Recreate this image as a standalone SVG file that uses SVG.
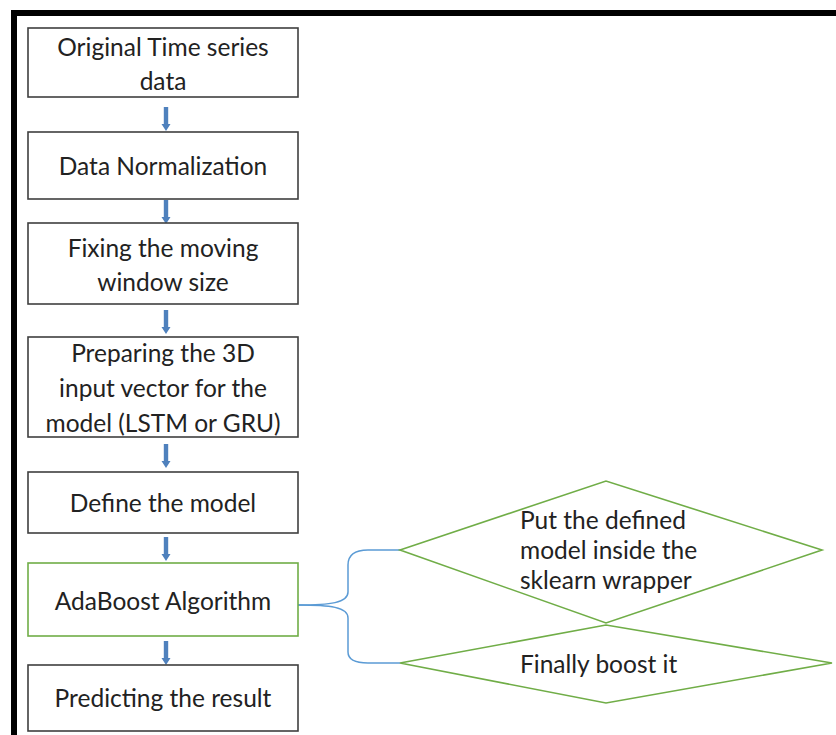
<svg xmlns="http://www.w3.org/2000/svg" width="836" height="735" viewBox="0 0 836 735">
  <defs>
    <style>
      .box { fill: #ffffff; stroke: #3f3f3f; stroke-width: 1.6; }
      .gbox { fill: #ffffff; stroke: #70ad47; stroke-width: 1.6; }
      .dia { fill: none; stroke: #70ad47; stroke-width: 1.6; }
      .lbl { font-family: Lato, "Liberation Sans", sans-serif; font-size: 24.5px; fill: #222222; text-anchor: middle; dominant-baseline: central; }
      .lft { text-anchor: start; }
      .arrow { fill: #4f81bd; }
      .brace { fill: none; stroke: #5b9bd5; stroke-width: 1.5; }
    </style>
    <path id="dnArrow" d="M -2.2 0 L 2.2 0 L 2.2 17 L 4.5 17 L 0 24 L -4.5 17 L -2.2 17 Z"/>
  </defs>

  <rect x="0" y="0" width="836" height="735" fill="#ffffff"/>

  <!-- outer frame (top and left edges) -->
  <path d="M 14 735 L 14 13 L 836 13" fill="none" stroke="#000000" stroke-width="6"/>

  <!-- connectors -->
  <g id="connectors">
    <use href="#dnArrow" class="arrow" x="166" y="107"/>
    <use href="#dnArrow" class="arrow" x="166" y="200"/>
    <use href="#dnArrow" class="arrow" x="166" y="310"/>
    <use href="#dnArrow" class="arrow" x="166" y="444"/>
    <use href="#dnArrow" class="arrow" x="166" y="537"/>
    <use href="#dnArrow" class="arrow" x="166" y="641"/>
    <path class="brace" d="M 298 605 C 330 605 348 603 348 592 L 348 565 C 348 554 356 550 368 550 L 400 550"/>
    <path class="brace" d="M 298 605 C 330 605 348 607 348 618 L 348 652 C 348 660 356 663 368 663 L 400 663"/>
  </g>

  <g id="n1">
    <rect class="box" x="28" y="28" width="270" height="69"/>
    <text class="lbl" x="163" y="46">Original Time series</text>
    <text class="lbl" x="163" y="80">data</text>
  </g>

  <g id="n2">
    <rect class="box" x="28" y="132" width="270" height="67"/>
    <text class="lbl" x="163" y="165">Data Normalization</text>
  </g>

  <g id="n3">
    <rect class="box" x="28" y="223" width="270" height="81"/>
    <text class="lbl" x="163" y="247">Fixing the moving</text>
    <text class="lbl" x="163" y="281">window size</text>
  </g>

  <g id="n4">
    <rect class="box" x="28" y="337" width="270" height="100"/>
    <text class="lbl" x="163" y="352">Preparing the 3D</text>
    <text class="lbl" x="163" y="387">input vector for the</text>
    <text class="lbl" x="163" y="422">model (LSTM or GRU)</text>
  </g>

  <g id="n5">
    <rect class="box" x="28" y="472" width="270" height="61"/>
    <text class="lbl" x="163" y="502">Define the model</text>
  </g>

  <g id="n6">
    <rect class="gbox" x="28" y="563" width="270" height="73"/>
    <text class="lbl" x="163" y="600">AdaBoost Algorithm</text>
  </g>

  <g id="n7">
    <rect class="box" x="28" y="665" width="270" height="66"/>
    <text class="lbl" x="163" y="697">Predicting the result</text>
  </g>

  <g id="d1">
    <polygon class="dia" points="400,550 606,481 822,550 606,623"/>
    <text class="lbl lft" x="520" y="519">Put the defined</text>
    <text class="lbl lft" x="520" y="549">model inside the</text>
    <text class="lbl lft" x="520" y="579">sklearn wrapper</text>
  </g>

  <g id="d2">
    <polygon class="dia" points="400,663 606,625 832,663 606,703"/>
    <text class="lbl lft" x="520" y="663">Finally boost it</text>
  </g>
</svg>
